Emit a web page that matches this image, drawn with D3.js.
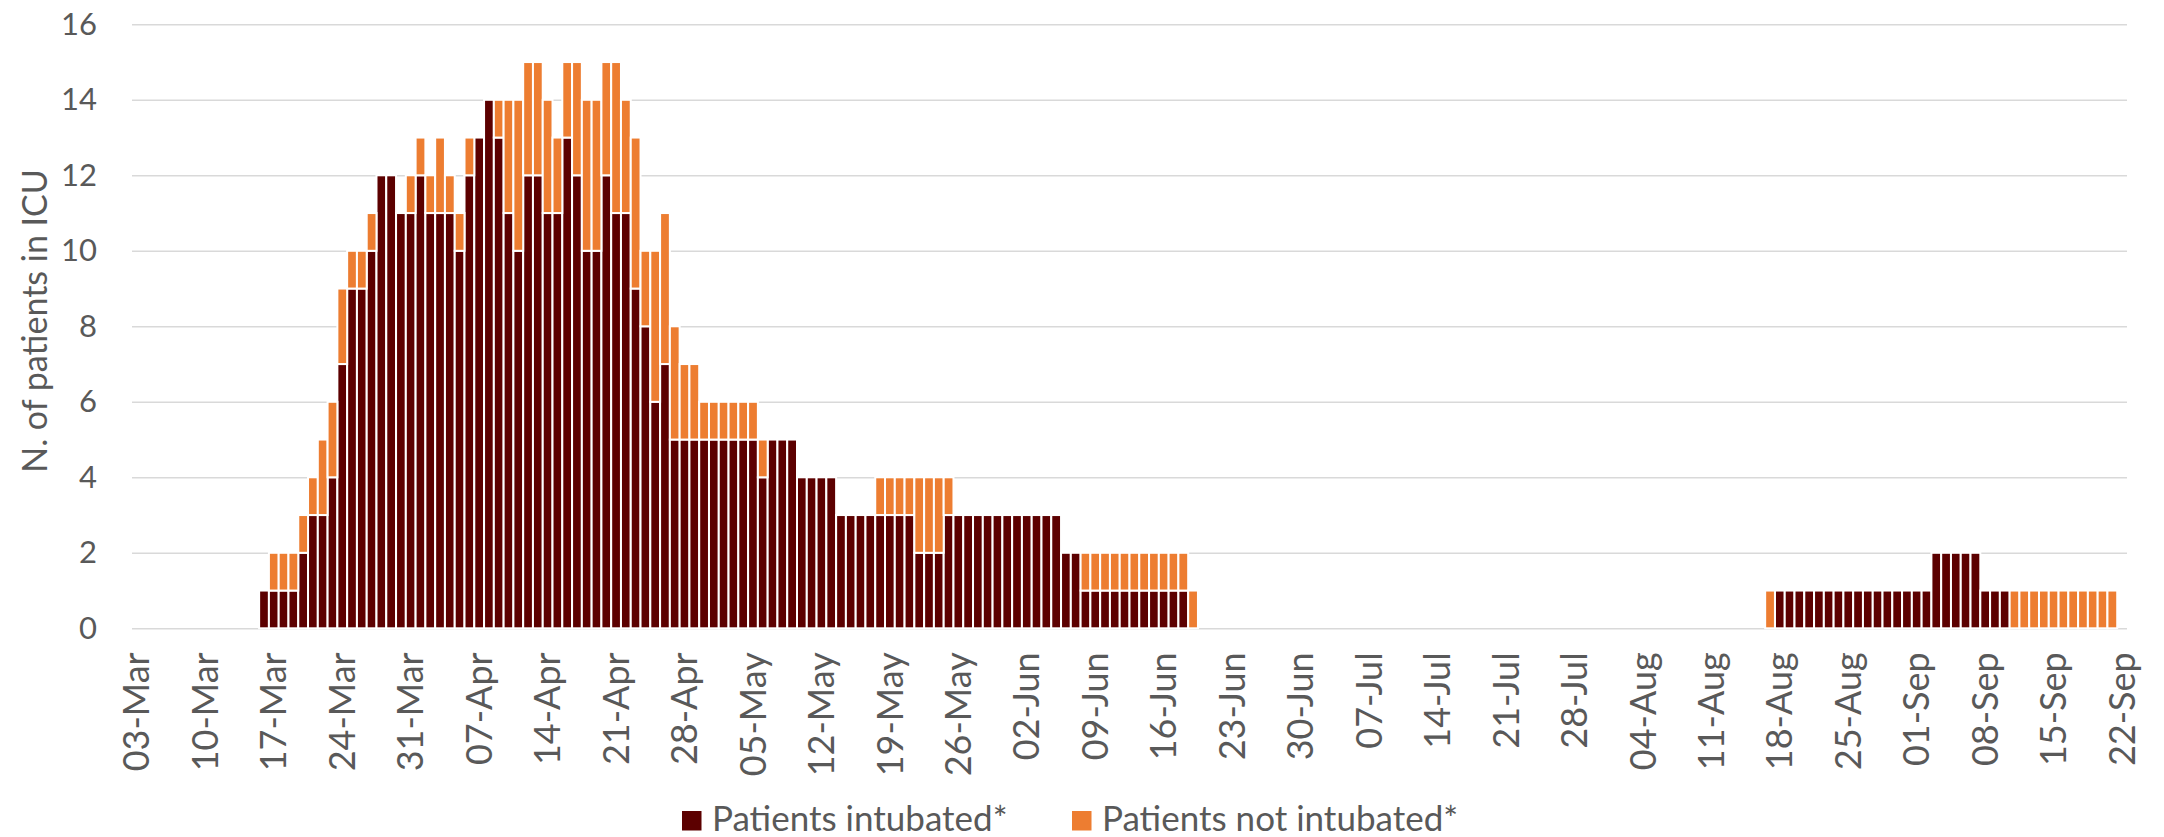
<!DOCTYPE html>
<html>
<head>
<meta charset="utf-8">
<script src="https://cdn.jsdelivr.net/npm/d3@7"></script>
<style>
body { margin: 0; background: #fff; }
text { font-family: Lato, "Open Sans", sans-serif; fill: #595959; }
</style>
</head>
<body>
<svg class="canvas"></svg>
<script>
/*
	ICU patients per day, stacked bars (intubated / not intubated)
*/

var dwidth = 2164;
var dheight = 837;

// first wave, one value per day starting 16-Mar-2020
var wave1Start = "2020-03-16";
var wave1Intubated = [
	1,1,1,1,2,3,3,4,7,9,
	9,10,12,12,11,11,12,11,11,11,
	10,12,13,14,13,11,10,12,12,11,
	11,13,12,10,10,12,11,11,9,8,
	6,7,5,5,5,5,5,5,5,5,
	5,4,5,5,5,4,4,4,4,3,
	3,3,3,3,3,3,3,2,2,2,
	3,3,3,3,3,3,3,3,3,3,
	3,3,2,2,1,1,1,1,1,1,
	1,1,1,1,1,0];
var wave1NotIntubated = [
	0,1,1,1,1,1,2,2,2,1,
	1,1,0,0,0,1,1,1,2,1,
	1,1,0,0,1,3,4,3,3,3,
	2,2,3,4,4,3,4,3,4,2,
	4,4,3,2,2,1,1,1,1,1,
	1,1,0,0,0,0,0,0,0,0,
	0,0,0,1,1,1,1,2,2,2,
	1,0,0,0,0,0,0,0,0,0,
	0,0,0,0,1,1,1,1,1,1,
	1,1,1,1,1,1];

// second wave, one value per day starting 17-Aug-2020
var wave2Start = "2020-08-17";
var wave2Intubated = [
	0,1,1,1,1,1,1,1,1,1,
	1,1,1,1,1,1,1,2,2,2,
	2,2,1,1,1,0,0,0,0,0,
	0,0,0,0,0,0];
var wave2NotIntubated = [
	1,0,0,0,0,0,0,0,0,0,
	0,0,0,0,0,0,0,0,0,0,
	0,0,0,0,0,1,1,1,1,1,
	1,1,1,1,1,1];

var xTickLabels = ["03-Mar","10-Mar","17-Mar","24-Mar","31-Mar","07-Apr","14-Apr","21-Apr",
	"28-Apr","05-May","12-May","19-May","26-May","02-Jun","09-Jun","16-Jun","23-Jun","30-Jun",
	"07-Jul","14-Jul","21-Jul","28-Jul","04-Aug","11-Aug","18-Aug","25-Aug","01-Sep","08-Sep",
	"15-Sep","22-Sep"];
var yTicks = [0,2,4,6,8,10,12,14,16];
var seriesNames = ["Patients intubated*", "Patients not intubated*"];

var colIntub = "#5c0000";
var colNotIntub = "#ed7d31";

// plot box
var pleft = 132, pright = 2127, ptop = 24.3, pbottom = 628.3;

var canv = d3.select(".canvas").attr("width", dwidth).attr("height", dheight);

var parseDay = d3.utcParse("%Y-%m-%d");
var parseLabel = d3.utcParse("%d-%b-%Y");
var fmtKey = d3.utcFormat("%Y-%m-%d");

// every day on the axis, 03-Mar .. 22-Sep
var days = d3.utcDay.range(Date.UTC(2020,2,3), Date.UTC(2020,8,23)).map(fmtKey);

// build rows {day, intub, notIntub}
var rows = [];
function addWave(start, intub, notIntub) {
	var s = parseDay(start);
	for (var i = 0; i < intub.length; i++) {
		rows.push({day: fmtKey(d3.utcDay.offset(s, i)), intub: intub[i], notIntub: notIntub[i]});
	}
}
addWave(wave1Start, wave1Intubated, wave1NotIntubated);
addWave(wave2Start, wave2Intubated, wave2NotIntubated);

var sx = d3.scaleBand().domain(days).range([pleft, pright]).padding(0);
var sy = d3.scaleLinear().domain([0,16]).range([pbottom, ptop]);

// gridlines + y labels
var yAxis = canv.append("g")
	.attr("transform", "translate(" + pleft + ",0)")
	.call(d3.axisLeft(sy).tickValues(yTicks).tickSize(-(pright-pleft)).tickPadding(35));
yAxis.select(".domain").remove();
yAxis.selectAll("line").attr("stroke", "#d9d9d9").attr("stroke-width", 1.5);
yAxis.selectAll("text").attr("font-size", "31px").style("font-family", "Lato").attr("fill", "#595959");

// stacked bars
var stack = d3.stack().keys(["intub", "notIntub"])(rows);
var cols = [colIntub, colNotIntub];
canv.selectAll("g.series")
	.data(stack)
	.enter()
	.append("g")
	.attr("class", "series")
	.attr("fill", function(d, i) { return cols[i]; })
	.selectAll("rect")
	.data(function(d) { return d.filter(function(p) { return p[1] > p[0]; }); })
	.enter()
	.append("rect")
	.attr("x", function(p) { return sx(p.data.day); })
	.attr("width", sx.bandwidth())
	.attr("y", function(p) { return sy(p[1]); })
	.attr("height", function(p) { return sy(p[0]) - sy(p[1]); })
	.attr("stroke", "#fff")
	.attr("stroke-width", 2);

// x labels, rotated
var tickKeys = xTickLabels.map(function(l) { return fmtKey(parseLabel(l + "-2020")); });
var xAxis = canv.append("g")
	.attr("transform", "translate(0," + pbottom + ")")
	.call(d3.axisBottom(sx).tickValues(tickKeys).tickSize(0)
		.tickFormat(function(k, i) { return xTickLabels[i]; }));
xAxis.select(".domain").remove();
xAxis.selectAll("text")
	.attr("font-size", "36px")
	.attr("fill", "#595959")
	.attr("x", -24)
	.attr("y", 0)
	.attr("dy", "0.35em")
	.attr("transform", "rotate(-90)")
	.style("text-anchor", "end");

// y title
canv.append("text")
	.attr("transform", "translate(47,321) rotate(-90)")
	.attr("text-anchor", "middle")
	.attr("font-size", "34px")
	.text("N. of patients in ICU");

// legend
var leg = [
	{name: seriesNames[0], col: colIntub, x: 682},
	{name: seriesNames[1], col: colNotIntub, x: 1072}];
var lg = canv.selectAll("g.leg").data(leg).enter().append("g").attr("class", "leg");
lg.append("rect")
	.attr("x", function(d) { return d.x; })
	.attr("y", 811)
	.attr("width", 19.5)
	.attr("height", 19.5)
	.attr("fill", function(d) { return d.col; });
lg.append("text")
	.attr("x", function(d) { return d.x + 30; })
	.attr("y", 830.5)
	.attr("font-size", "35px")
	.text(function(d) { return d.name; });
</script>
</body>
</html>
